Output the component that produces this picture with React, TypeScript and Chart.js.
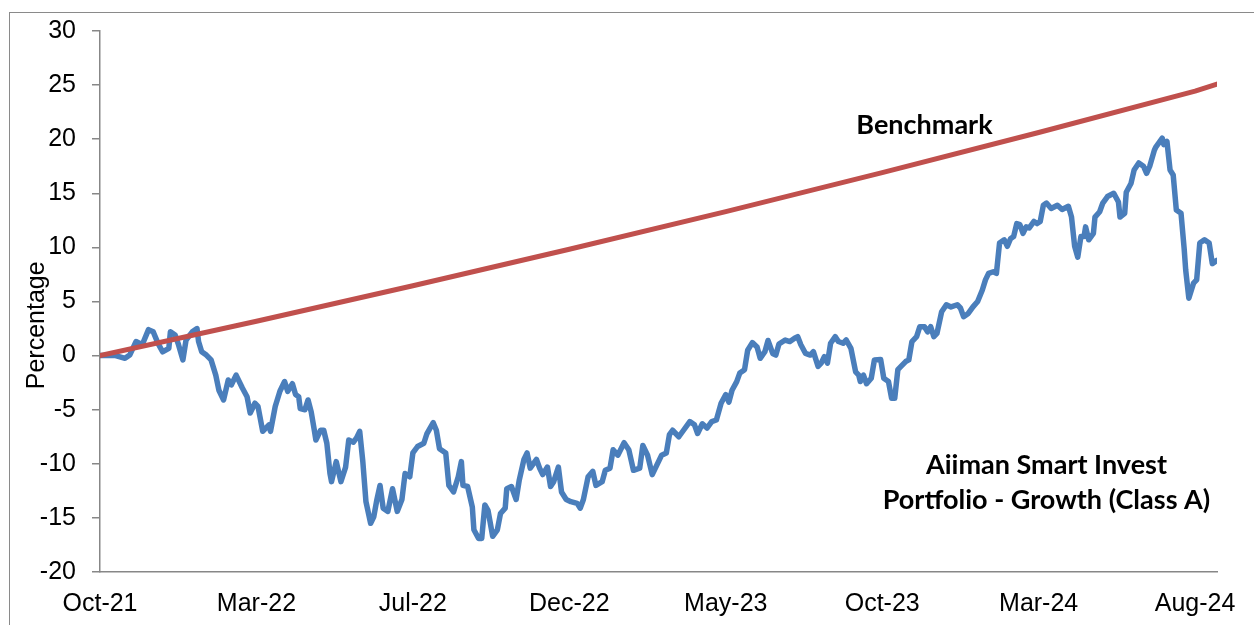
import React, { useEffect, useRef } from 'react';
import { Chart, registerables } from 'chart.js';

Chart.register(...registerables);

// x axis: trading-day index from Oct-21
const xTickLabels = ['Oct-21', 'Mar-22', 'Jul-22', 'Dec-22', 'May-23', 'Oct-23', 'Mar-24', 'Aug-24'];
const xTickDays = [0, 100, 200, 300, 400, 500, 600, 700];
const lastDay = 714;

const yMin = -20;
const yMax = 30;
const yStep = 5;
const yTitle = 'Percentage';

const benchDays = [0, 100, 200, 300, 400, 500, 600, 700, 714];
const benchPct = [0, 3.17, 6.45, 9.83, 13.31, 16.91, 20.62, 24.45, 25.1];

const fundDays = [
  0, 10, 16, 19, 23, 27, 31, 34, 37, 40, 44, 45, 48, 50, 53, 55, 59, 62, 63, 65,
  68, 71, 74, 76, 79, 82, 84, 87, 91, 94, 96, 99, 101, 104, 108, 109, 112, 115, 118, 120,
  123, 125, 127, 128, 131, 133, 135, 137, 138, 141, 143, 145, 147, 148, 151, 154, 157, 159, 162, 164,
  166, 168, 170, 173, 175, 177, 179, 181, 184, 187, 190, 193, 195, 198, 200, 203, 207, 209, 213, 215,
  217, 221, 223, 226, 229, 231, 232, 235, 238, 239, 242, 244,
  246, 248, 251, 254, 256, 259, 260, 263, 266, 268, 271, 273, 275, 279, 281, 283, 286, 288, 290, 293,
  295, 298, 301, 305, 307, 309, 312, 315, 317, 321, 323, 326, 328, 331, 335, 338, 341, 345, 347, 350,
  353, 356, 359, 362, 364, 366,
  370, 373, 377, 380, 382, 385, 388, 391, 394, 397, 400, 402, 404, 407, 409, 412, 414, 417, 420, 422,
  425, 427, 430, 432, 434, 438, 441, 444, 446, 448, 451, 454, 456, 459, 461, 463, 465, 467, 470, 472,
  475, 477, 480, 483, 485, 486, 488, 490,
  493, 495, 499, 501, 504, 506, 508, 510, 512, 515, 517, 519, 522, 524, 527, 529, 531, 533, 535, 538,
  541, 544, 548, 550, 552, 555, 558, 561, 564, 566, 568, 571, 573, 575, 578, 580, 582, 584, 586, 588,
  590, 592, 594, 597, 599, 601, 603, 605, 608,
  612, 615, 619, 621, 623, 625, 627, 629, 630, 632, 635, 636, 639, 641, 644, 648, 651, 652, 655, 656,
  659, 661, 664, 667, 669, 671, 674, 675, 679, 680, 682, 684, 686, 688, 691, 693, 694, 696, 699, 701,
  703, 706, 709, 711, 714,
];

const fundPct = [
  0, 0, -0.25, 0.05, 1.3, 1.0, 2.4, 2.2, 1.15, 0.35, 0.67, 2.2, 1.9, 1.1, -0.4, 1.44, 2.2, 2.5, 1.3, 0.36,
  0.05, -0.4, -1.8, -3.2, -4.1, -2.25, -2.7, -1.8, -3.0, -3.8, -5.3, -4.4, -4.7, -7.0, -6.4, -7.0, -4.7, -3.3, -2.4, -3.3,
  -2.6, -3.6, -3.8, -4.9, -5.0, -4.1, -5.2, -6.9, -7.8, -6.9, -6.9, -8.1, -10.9, -11.65, -9.8, -11.65, -10.3, -7.8, -8.0, -7.6,
  -7.0, -9.8, -13.5, -15.5, -14.9, -13.3, -12.0, -14.1, -14.4, -12.3, -14.4, -13.3, -10.9, -11.2, -9.0, -8.4, -8.1, -7.2, -6.2, -6.9,
  -8.6, -9.0, -12.0, -12.6, -11.2, -9.8, -12.0, -12.1, -14.0, -16.1, -16.9, -16.9,
  -13.8, -14.3, -16.7, -16.1, -14.6, -14.1, -12.3, -12.1, -13.3, -11.5, -9.6, -9.0, -10.4, -9.6, -10.4, -11.0, -10.3, -12.1, -11.65, -10.3,
  -12.6, -13.3, -13.5, -13.65, -14.1, -13.3, -11.2, -10.7, -12.0, -11.65, -10.6, -10.4, -8.7, -9.2, -8.05, -8.7, -10.6, -10.4, -8.3, -9.2,
  -11.0, -10.1, -9.2, -9.0, -7.3, -6.9,
  -7.5, -6.9, -6.1, -6.4, -7.2, -6.3, -6.7, -6.1, -5.95, -4.4, -3.6, -4.3, -3.2, -2.4, -1.6, -1.3, 0.5, 1.2, 0.8, -0.25,
  0.36, 1.4, 0.2, 0.05, 1.07, 1.44, 1.3, 1.6, 1.75, 1.0, 0.2, 0.05, 0.36, -1.0, -0.7, -0.1, -0.7, 1.14, 1.75, 1.3,
  1.14, 1.44, 0.67, -1.5, -1.8, -2.4, -1.8, -2.6,
  -2.1, -0.4, -0.35, -2.1, -2.4, -3.95, -3.95, -1.3, -1.0, -0.55, -0.4, 1.3, 1.75, 2.67, 2.67, 2.2, 2.67, 1.75, 2.06, 4.06,
  4.7, 4.5, 4.7, 4.4, 3.6, 3.9, 4.5, 5.0, 6.06, 7.0, 7.6, 7.75, 7.6, 10.4, 10.7, 10.1, 10.8, 11.0, 12.2, 12.1,
  11.3, 11.9, 11.8, 12.4, 12.2, 12.4, 13.9, 14.1, 13.6,
  13.9, 13.5, 13.8, 12.8, 10.1, 9.1, 11.0, 11.0, 11.9, 10.7, 11.3, 12.8, 13.3, 14.1, 14.7, 15.0, 14.2, 12.8, 13.15, 15.1,
  15.9, 17.15, 17.8, 17.5, 16.85, 17.5, 19.0, 19.3, 20.1, 19.5, 19.8, 17.15, 16.7, 13.45, 13.15, 9.9, 7.9, 5.3, 6.7, 7.0,
  10.4, 10.7, 10.4, 8.5, 8.8,
];

const benchName = 'Benchmark';
const fundNameLines = ['Aiiman Smart Invest', 'Portfolio - Growth (Class A)'];

const tickFont = '"Liberation Sans", Arial, sans-serif';
const noteFont = 'Lato, "Open Sans", sans-serif';
const axisGray = '#878787';

const notesPlugin = {
  id: 'notes',
  afterDatasetsDraw(chart: any) {
    const { ctx, scales } = chart;
    const xs = scales.x;
    const ys = scales.y;
    ctx.save();
    ctx.fillStyle = '#000';
    ctx.textAlign = 'center';
    ctx.textBaseline = 'middle';
    ctx.font = `bold 27px ${noteFont}`;
    ctx.fillText(benchName, xs.getPixelForValue(527), ys.getPixelForValue(21.3));
    ctx.fillText(fundNameLines[0], xs.getPixelForValue(605), ys.getPixelForValue(-10.1));
    ctx.fillText(fundNameLines[1], xs.getPixelForValue(605), ys.getPixelForValue(-13.35));
    // y axis title
    ctx.font = `25px ${tickFont}`;
    ctx.translate(37, ys.getPixelForValue(2.8));
    ctx.rotate(-Math.PI / 2);
    ctx.fillText(yTitle, 0, 0);
    ctx.restore();
  },
};

export default function App() {
  const canvasRef = useRef<HTMLCanvasElement | null>(null);

  useEffect(() => {
    if (!canvasRef.current) return;
    const chart = new Chart(canvasRef.current, {
      type: 'line',
      data: {
        datasets: [
          {
            label: benchName,
            data: benchDays.map((d, i) => ({ x: d, y: benchPct[i] })),
            borderColor: '#C0504D',
            borderWidth: 5,
            pointRadius: 0,
            tension: 0,
            borderCapStyle: 'round',
            borderJoinStyle: 'round',
          },
          {
            label: fundNameLines.join(' '),
            data: fundDays.map((d, i) => ({ x: d, y: fundPct[i] })),
            borderColor: '#4A7EBB',
            borderWidth: 5.5,
            pointRadius: 0,
            tension: 0,
            borderCapStyle: 'round',
            borderJoinStyle: 'round',
          },
        ],
      },
      options: {
        animation: false,
        responsive: false,
        layout: { padding: { top: 31, right: 37, bottom: 0, left: 0 } },
        plugins: {
          legend: { display: false },
          tooltip: { enabled: false },
        },
        scales: {
          x: {
            type: 'linear',
            min: 0,
            max: lastDay,
            afterBuildTicks: (axis: any) => {
              axis.ticks = xTickDays.map((v) => ({ value: v }));
            },
            afterFit: (axis: any) => {
              axis.height = 53;
            },
            ticks: {
              autoSkip: false,
              maxRotation: 0,
              padding: 17,
              color: '#000',
              font: { family: tickFont, size: 25 },
              callback: (_v: any, idx: number) => xTickLabels[idx] ?? '',
            },
            grid: { display: false, drawTicks: false, drawOnChartArea: false },
            border: { display: true, color: axisGray, width: 1.5 },
          },
          y: {
            min: yMin,
            max: yMax,
            afterFit: (axis: any) => {
              axis.width = 100;
            },
            ticks: {
              stepSize: yStep,
              padding: 16,
              color: '#000',
              font: { family: tickFont, size: 25 },
            },
            grid: {
              display: true,
              drawOnChartArea: false,
              drawTicks: true,
              tickLength: 8,
              color: axisGray,
              lineWidth: 1.5,
            },
            border: { display: true, color: axisGray, width: 1.5 },
          },
        },
      },
      plugins: [notesPlugin],
    });
    return () => chart.destroy();
  }, []);

  return (
    <div style={{ position: 'absolute', left: 0, top: 0, width: 1254, height: 625, background: '#fff', overflow: 'hidden' }}>
      <div
        style={{
          position: 'absolute',
          left: 9,
          top: 12,
          width: 1260,
          height: 640,
          borderLeft: '1.5px solid #8a8a8a',
          borderTop: '1.5px solid #8a8a8a',
        }}
      />
      <canvas
        ref={canvasRef}
        width={1254}
        height={625}
        style={{ position: 'absolute', left: 0, top: 0, display: 'block' }}
      />
    </div>
  );
}
